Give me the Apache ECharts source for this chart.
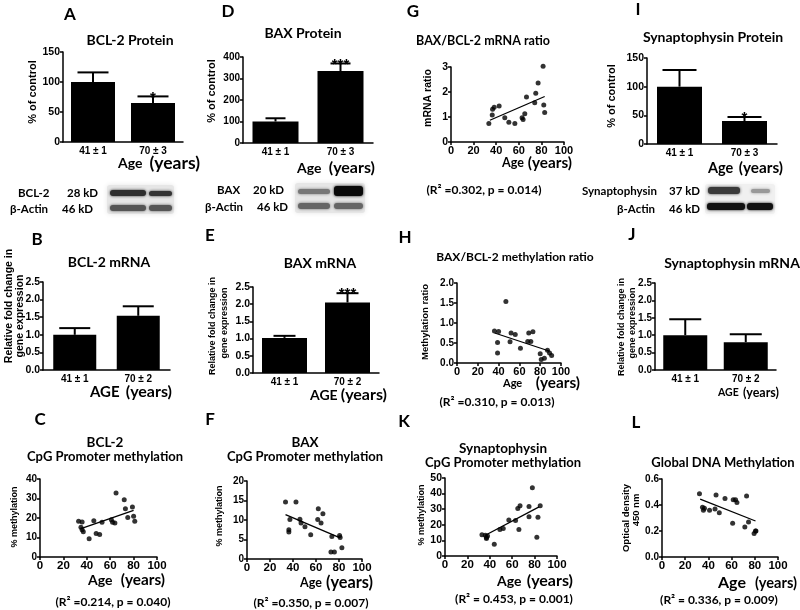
<!DOCTYPE html>
<html><head><meta charset="utf-8">
<script src="https://cdn.jsdelivr.net/npm/echarts/dist/echarts.min.js"></script>
<style>html,body{margin:0;padding:0;background:#fff}#c{width:800px;height:610px}</style>
</head><body><div id="c"></div>
<script>
// ---------- DATA ----------
const catsP = ['41 ± 1', '70 ± 3'];
const catsM = ['41 ± 1', '70 ± 2'];
// bar panels: means, SEM, significance
const bcl2ProtMean = [100, 65], bcl2ProtErr = [16, 11], bcl2ProtSig = ['', '*'];
const baxProtMean = [100, 335], baxProtErr = [15, 35], baxProtSig = ['', '***'];
const synProtMean = [100, 40], synProtErr = [29, 7], synProtSig = ['', '*'];
const bcl2MrnaMean = [1.0, 1.54], bcl2MrnaErr = [0.19, 0.27], bcl2MrnaSig = ['', ''];
const baxMrnaMean = [1.02, 2.05], baxMrnaErr = [0.06, 0.27], baxMrnaSig = ['', '***'];
const synMrnaMean = [1.0, 0.8], synMrnaErr = [0.46, 0.23], synMrnaSig = ['', ''];
// scatter panels: ages, values, fitted line end points
const gAge = [33.5, 36.5, 36.8, 38.2, 42.6, 47.6, 51.2, 56.5, 62.9, 63.8, 65.3, 66.8, 74.1, 75, 77.1, 81.5, 82.1, 82.9];
const gVal = [0.74, 1.08, 1.31, 1.39, 1.44, 0.97, 0.79, 0.74, 0.97, 0.90, 1.13, 1.80, 1.57, 1.95, 2.36, 3.03, 1.48, 1.18];
const gFit = [[34.4, 0.87], [82.9, 1.82]];
const hAge = [36, 40, 39, 39, 47, 51, 52, 56, 61, 68, 69, 71, 73, 80, 81, 84, 87, 89, 91];
const hVal = [0.80, 0.79, 0.51, 0.25, 1.54, 0.53, 0.75, 0.71, 0.37, 0.54, 0.75, 0.54, 0.78, 0.23, 0.09, 0.12, 0.32, 0.25, 0.19];
const hFit = [[36.2, 0.75], [88.6, 0.30]];
const cAge = [65, 72, 73, 79, 75, 80, 81, 53, 61, 62, 64, 46, 48, 51, 42, 33, 36, 35, 36, 37];
const cVal = [32.8, 29.4, 24.8, 25.6, 20.3, 20.9, 18.3, 17.8, 19.1, 17.8, 17.4, 18.6, 12.1, 11.6, 9.4, 18.3, 17.9, 15.2, 14.0, 13.0];
const cFit = [[35, 14.5], [80, 23.9]];
const fAge = [33.5, 42.6, 37.3, 36.4, 36.4, 46, 47, 50.4, 55.4, 62, 61.5, 66, 64.4, 73.8, 73, 76, 80.5, 81, 82.5];
const fVal = [14.6, 14.6, 10.1, 7.5, 6.9, 10.2, 9.2, 8.3, 6.2, 12.9, 10.1, 11.6, 9.2, 5.8, 1.8, 1.8, 6.0, 5.5, 2.9];
const fFit = [[33.5, 11.4], [81, 5.4]];
const kAge = [33, 36, 37, 38, 37, 44, 49, 52, 57, 63, 65, 67, 66, 75, 75, 78, 82, 83, 85];
const kVal = [13.7, 13.3, 11.8, 12.9, 11.2, 7.5, 17, 17.6, 23, 22.7, 30.5, 32.2, 17, 31.8, 25.1, 43.8, 12, 24.9, 32.2];
const kFit = [[36, 13.3], [84, 31.5]];
const lAge = [32.3, 34.9, 35.7, 36.6, 41, 45.7, 46.6, 49.4, 54.3, 60.9, 61.4, 63.4, 64.6, 71.4, 72.9, 74.6, 79.4, 80.6, 81];
const lVal = [0.486, 0.383, 0.36, 0.375, 0.36, 0.37, 0.476, 0.34, 0.45, 0.26, 0.44, 0.44, 0.42, 0.23, 0.47, 0.27, 0.18, 0.2, 0.2];
const lFit = [[32.9, 0.445], [80.6, 0.277]];

// ---------- BUILD ----------
const grids = [], xAxes = [], yAxes = [], series = [];
const AX = {show: true, onZero: false, lineStyle: {color: '#000', width: 1.5}};
const TK = {show: true, length: 3, lineStyle: {color: '#000', width: 1.5}};
function lab(size, fmt) {
  return {color: '#000', fontWeight: 'bold', fontSize: size, fontFamily: 'Liberation Sans', margin: 3, formatter: fmt};
}
function addBar(g, cats, mean, err, sig, yMax, yInt, dec, yl, barW, capW) {
  const i = grids.length;
  grids.push({left: g[0], top: g[1], width: g[2], height: g[3]});
  xAxes.push({gridIndex: i, type: 'category', data: cats, axisLine: AX, axisTick: {show: false},
    axisLabel: {color: '#000', fontWeight: 'bold', fontSize: 10, fontFamily: 'Liberation Sans', margin: 4}, splitLine: {show: false}});
  yAxes.push({gridIndex: i, type: 'value', min: 0, max: yMax, interval: yInt, axisLine: AX, axisTick: TK,
    axisLabel: lab(yl, v => v.toFixed(dec)), splitLine: {show: false}});
  series.push({type: 'bar', xAxisIndex: i, yAxisIndex: i, data: mean, barWidth: barW, itemStyle: {color: '#000'}, silent: true, animation: false});
  series.push({type: 'custom', xAxisIndex: i, yAxisIndex: i, animation: false, silent: true, clip: false,
    data: mean.map((m, k) => [k, m, err[k]]),
    renderItem: function (params, api) {
      const k = api.value(0);
      const b = api.coord([k, api.value(1)]);
      const t = api.coord([k, api.value(1) + api.value(2)]);
      return {type: 'group', children: [
        {type: 'line', shape: {x1: b[0], y1: b[1], x2: t[0], y2: t[1]}, style: {stroke: '#000', lineWidth: 2}},
        {type: 'line', shape: {x1: t[0] - capW / 2, y1: t[1], x2: t[0] + capW / 2, y2: t[1]}, style: {stroke: '#000', lineWidth: 2}},
        {type: 'text', style: {text: sig[k], x: t[0], y: t[1] + 1, align: 'center', verticalAlign: 'middle',
          fontSize: 15, fontWeight: 'bold', fontFamily: 'Liberation Sans', fill: '#000'}}
      ]};
    }});
}
function addScatter(g, ages, vals, fit, yMax, yInt, dec, xl, yl) {
  const i = grids.length;
  grids.push({left: g[0], top: g[1], width: g[2], height: g[3]});
  xAxes.push({gridIndex: i, type: 'value', min: 0, max: 100, interval: 20, axisLine: AX, axisTick: TK,
    axisLabel: lab(xl), splitLine: {show: false}});
  yAxes.push({gridIndex: i, type: 'value', min: 0, max: yMax, interval: yInt, axisLine: AX, axisTick: TK,
    axisLabel: lab(yl, v => v.toFixed(dec)), splitLine: {show: false}});
  series.push({type: 'scatter', xAxisIndex: i, yAxisIndex: i, data: ages.map((a, k) => [a, vals[k]]),
    symbolSize: 5, itemStyle: {color: '#000'}, silent: true, animation: false, clip: false});
  series.push({type: 'line', xAxisIndex: i, yAxisIndex: i, data: fit, symbol: 'none', clip: false,
    lineStyle: {color: '#000', width: 1.3}, silent: true, animation: false});
}

addBar([63, 52, 120, 90], catsP, bcl2ProtMean, bcl2ProtErr, bcl2ProtSig, 150, 50, 0, 10.5, 44, 31);
addBar([243, 57, 130, 86], catsP, baxProtMean, baxProtErr, baxProtSig, 400, 100, 0, 10, 46, 20);
addScatter([451, 67, 113, 75], gAge, gVal, gFit, 3, 1, 0, 11, 10.5);
addBar([647, 58, 130, 86], catsP, synProtMean, synProtErr, synProtSig, 150, 50, 0, 10.5, 45, 34);
addBar([43, 282, 127, 88], catsM, bcl2MrnaMean, bcl2MrnaErr, bcl2MrnaSig, 2.5, 0.5, 1, 10.5, 43, 31);
addBar([253, 287, 126, 86], catsM, baxMrnaMean, baxMrnaErr, baxMrnaSig, 2.5, 0.5, 1, 10.5, 45, 22);
addScatter([457, 283, 104, 80], hAge, hVal, hFit, 2, 0.5, 1, 11, 10);
addBar([655, 283, 121, 87], catsM, synMrnaMean, synMrnaErr, synMrnaSig, 2.5, 0.5, 1, 10, 44, 32);
addScatter([40, 479, 117, 78], cAge, cVal, cFit, 40, 10, 0, 11.5, 10);
addScatter([247, 481, 115, 78], fAge, fVal, fFit, 20, 5, 0, 11.5, 10);
addScatter([445, 478, 112, 78], kAge, kVal, kFit, 50, 10, 0, 11.5, 10.5);
addScatter([662, 479, 116, 78], lAge, lVal, lFit, 0.6, 0.2, 1, 11.5, 10);

// ---------- TEXT / DECORATION ----------
const G = [];
function T(x, y, text, size, opt) {
  opt = opt || {};
  G.push({type: 'text', x: x, y: y, rotation: opt.rot || 0, z: 10, silent: true,
    style: {text: text, fill: '#000', fontSize: size, fontWeight: opt.w || 'bold', fontFamily: opt.f || 'Lato',
      align: opt.a || 'center', verticalAlign: 'middle'}});
}
const R = Math.PI / 2;
// panel letters
[['A', 70, 15], ['D', 228, 12], ['G', 413, 12], ['I', 638, 10], ['B', 37, 240], ['E', 210, 236], ['H', 405, 238],
 ['J', 632, 235], ['C', 40, 420], ['F', 210, 420], ['K', 404, 422], ['L', 636, 423]].forEach(p => T(p[1], p[2], p[0], 17));
// titles
T(130, 40, 'BCL-2 Protein', 14);
T(303, 33, 'BAX Protein', 14);
T(483, 41, 'BAX/BCL-2 mRNA ratio', 12.5);
T(713, 37, 'Synaptophysin Protein', 14);
T(109, 262, 'BCL-2 mRNA', 14);
T(320, 263, 'BAX mRNA', 14);
T(515, 257, 'BAX/BCL-2 methylation ratio', 12);
T(732, 263, 'Synaptophysin mRNA', 14);
T(105, 443, 'BCL-2', 13.5); T(105, 457, 'CpG Promoter methylation', 13);
T(305, 443, 'BAX', 13.5); T(305, 457, 'CpG Promoter methylation', 13);
T(503, 449, 'Synaptophysin', 13.5); T(503, 463, 'CpG Promoter methylation', 13);
T(723, 463, 'Global DNA Methylation', 13);
// x axis names: left edge of first word, right edge of "(years)"
function AY(x1, x2, y, w1, s1, s2) {
  T(x1, y, w1, s1, {a: 'left'}); T(x2, y, '(years)', s2, {a: 'right'});
}
AY(118, 200, 163, 'Age', 14, 17.5);
AY(297, 375, 168, 'Age', 14, 16);
AY(502, 572, 163, 'Age', 12.5, 15.3);
AY(708, 783, 168, 'Age', 14.5, 15.3);
AY(90, 172, 392, 'AGE', 15, 16);
AY(310, 387, 395, 'AGE', 14, 16);
AY(503, 580, 383, 'Age', 11, 15.3);
AY(718, 779, 393, 'AGE', 10.5, 12.5);
AY(88, 165, 580, 'Age', 14, 15.3);
AY(300, 373, 583, 'Age', 12.5, 16.3);
AY(497, 573, 581, 'Age', 14, 16);
AY(718, 797, 583, 'Age', 16, 14.6);
// y axis names
const YF = {rot: R, f: 'Liberation Sans'};
T(33, 92, '% of control', 11, YF);
T(212, 91, '% of control', 11, YF);
T(428, 98, 'mRNA ratio', 10.5, YF);
T(612, 96, '% of control', 11, YF);
T(9, 306, 'Relative fold change in', 10.5, YF); T(20, 316, 'gene expression', 10.5, YF);
T(213, 326, 'Relative fold change in', 9, YF); T(225, 323, 'gene expression', 9, YF);
T(622, 327, 'Relative fold change in', 9, YF); T(633, 323, 'gene expression', 9, YF);
T(425, 322, 'Methylation ratio', 9.5, YF);
T(15, 517, '% methylation', 9, YF);
T(220, 516, '% methylation', 9, YF);
T(422, 515, '% methylation', 9, YF);
T(626, 518, 'Optical density', 9.5, YF); T(636, 510, '450 nm', 9.5, YF);
// regression statistics
T(484, 190, '(R² =0.302, p = 0.014)', 12);
T(497, 402, '(R² =0.310, p = 0.013)', 12);
T(113, 602, '(R² =0.214, p = 0.040)', 12);
T(311, 603, '(R² =0.350, p = 0.007)', 12);
T(514, 599, '(R² = 0.453, p = 0.001)', 12);
T(719, 600, '(R² = 0.336, p = 0.009)', 12);
// blot labels
const BL = {a: 'left'};
T(18, 193, 'BCL-2', 11.5, BL); T(67, 193, '28 kD', 11.5, BL);
T(10, 209, 'β-Actin', 11.5, BL); T(62, 209, '46 kD', 11.5, BL);
T(217, 190, 'BAX', 11.5, BL); T(253, 190, '20 kD', 11.5, BL);
T(205, 207, 'β-Actin', 11.5, BL); T(257, 207, '46 kD', 11.5, BL);
T(582, 191, 'Synaptophysin', 11.5, BL); T(669, 191, '37 kD', 11.5, BL);
T(617, 209, 'β-Actin', 11.5, BL); T(669, 209, '46 kD', 11.5, BL);
// blot bands (photographic in the original)
function band(x, y, w, h, c, blur) {
  G.push({type: 'rect', silent: true, z: 5, shape: {x: x, y: y, width: w, height: h, r: Math.min(3, h / 2)},
    style: {fill: c, shadowBlur: blur || 3, shadowColor: c}});
}
band(107, 185, 67, 29, '#e6e6e6', 5);
band(110, 190, 36, 6, '#2e2e2e'); band(149, 191, 23, 5, '#333');
band(110, 205, 36, 6, '#555'); band(149, 205, 23, 6, '#555');
band(295, 183, 70, 30, '#e6e6e6', 5);
band(298, 189, 32, 5, '#777'); band(334, 186, 29, 10, '#0a0a0a');
band(298, 203, 32, 6, '#666'); band(334, 203, 29, 6, '#666');
band(705, 184, 70, 30, '#f0f0f0', 5);
band(708, 187, 32, 7, '#3a3a3a'); band(751, 189, 19, 4, '#999');
band(707, 203, 38, 7, '#111'); band(747, 203, 26, 7, '#111');

const chart = echarts.init(document.getElementById('c'));
chart.setOption({
  animation: false,
  backgroundColor: '#fff',
  grid: grids, xAxis: xAxes, yAxis: yAxes, series: series, graphic: G
});
</script></body></html>
